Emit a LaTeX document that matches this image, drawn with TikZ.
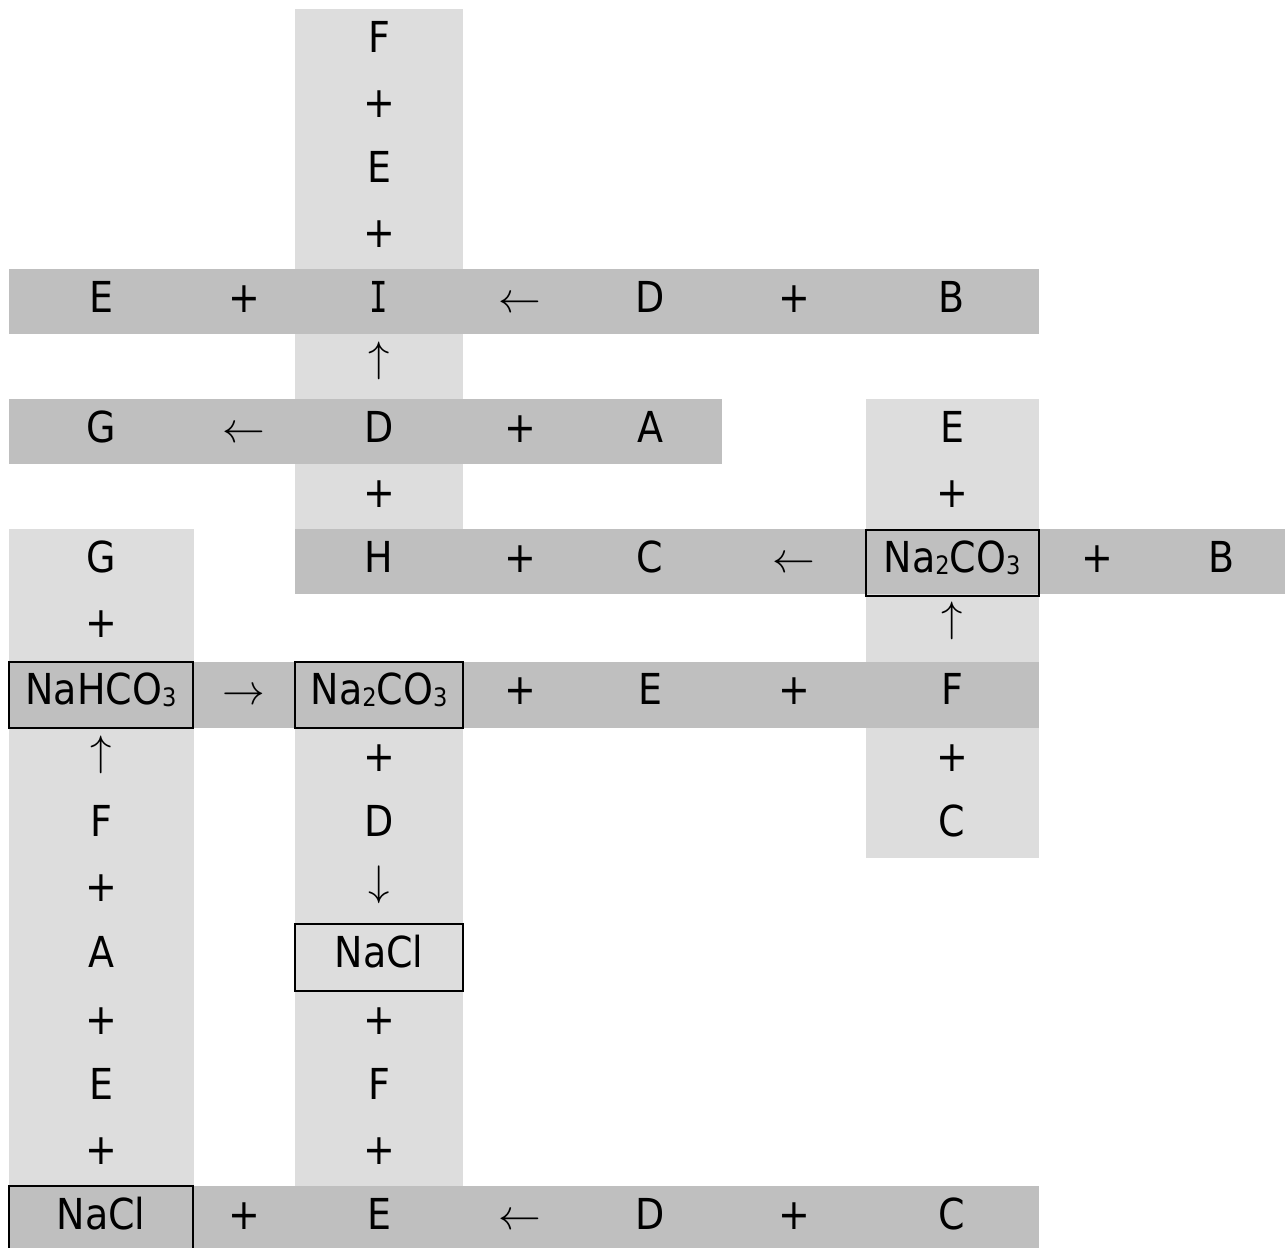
\documentclass[tikz,border=0pt]{standalone}
\usepackage{fix-cm}
\usepackage{fontspec}
\setmainfont{DejaVu Sans}[FakeStretch=0.89]
\newfontfamily\serifI{DejaVu Sans Mono}[FakeStretch=0.72]
\newcommand{\chsub}[1]{\raisebox{-1.5pt}{\fontsize{19}{20}\selectfont #1}}
\definecolor{lightg}{HTML}{DDDDDD}
\definecolor{darkg}{HTML}{BFBFBF}
\begin{document}
\begin{tikzpicture}[x=0.75pt,y=-0.75pt,
  txt/.style={anchor=base,inner sep=0pt,font=\fontsize{32}{38}\selectfont},
  varr/.style={txt,yshift=4.5pt},
  lbg/.style={fill=lightg,draw=none},
  dbg/.style={fill=darkg,draw=none},
  cellbox/.style={draw=black,line width=1.1pt}]
\fill[white] (0,0) rectangle (1285,1247);
\useasboundingbox (0,0) rectangle (1285,1247);
% light columns
\path[lbg] (295,9) rectangle (463,529);
\path[lbg] (866,399) rectangle (1039,858);
\path[lbg] (9,529) rectangle (194,1186);
\path[lbg] (295,662) rectangle (463,1186);
% dark rows
\path[dbg] (9,269) rectangle (1039,334);
\path[dbg] (9,399) rectangle (722,464);
\path[dbg] (295,529) rectangle (1285,594);
\path[dbg] (9,662) rectangle (1039,728);
\path[dbg] (9,1186) rectangle (1039,1262);
% boxes
\draw[cellbox] (9,662) rectangle (193,728);
\draw[cellbox] (295,662) rectangle (463,728);
\draw[cellbox] (866,530) rectangle (1039,596);
\draw[cellbox] (295,924) rectangle (463,991);
\draw[cellbox] (9,1186) rectangle (193,1262);
% row 0-3
\node[txt] (r0c2) at (379,52) {F};
\node[txt] (r1c2) at (379,117) {+};
\node[txt] (r2c2) at (379,182) {E};
\node[txt] (r3c2) at (379,247) {+};
% row 4
\node[txt] (r4c0) at (101,312) {E};
\node[txt] (r4c1) at (244,312) {+};
\node[txt] (r4c2) at (379,312) {\serifI I};
\node[txt] (r4c3) at (520,312) {$\leftarrow$};
\node[txt] (r4c4) at (650,312) {D};
\node[txt] (r4c5) at (794,312) {+};
\node[txt] (r4c6) at (952,312) {B};
% row 5
\node[varr] (r5c2) at (379,377) {$\uparrow$};
% row 6
\node[txt] (r6c0) at (101,442) {G};
\node[txt] (r6c1) at (244,442) {$\leftarrow$};
\node[txt] (r6c2) at (379,442) {D};
\node[txt] (r6c3) at (520,442) {+};
\node[txt] (r6c4) at (650,442) {A};
\node[txt] (r6c6) at (952,442) {E};
% row 7
\node[txt] (r7c2) at (379,507) {+};
\node[txt] (r7c6) at (952,507) {+};
% row 8
\node[txt] (r8c0) at (101,572) {G};
\node[txt] (r8c2) at (379,572) {H};
\node[txt] (r8c3) at (520,572) {+};
\node[txt] (r8c4) at (650,572) {C};
\node[txt] (r8c5) at (794,572) {$\leftarrow$};
\node[txt] (r8c6) at (952,572) {Na\chsub{2}CO\chsub{3}};
\node[txt] (r8c7) at (1097,572) {+};
\node[txt] (r8c8) at (1222,572) {B};
% row 9
\node[txt] (r9c0) at (101,637) {+};
\node[varr] (r9c6) at (952,637) {$\uparrow$};
% row 10
\node[txt] (r10c0) at (101,704) {NaHCO\chsub{3}};
\node[txt] (r10c1) at (244,704) {$\rightarrow$};
\node[txt] (r10c2) at (379,704) {Na\chsub{2}CO\chsub{3}};
\node[txt] (r10c3) at (520,704) {+};
\node[txt] (r10c4) at (650,704) {E};
\node[txt] (r10c5) at (794,704) {+};
\node[txt] (r10c6) at (952,704) {F};
% row 11
\node[varr] (r11c0) at (101,771) {$\uparrow$};
\node[txt] (r11c2) at (379,771) {+};
\node[txt] (r11c6) at (952,771) {+};
% row 12
\node[txt] (r12c0) at (101,836) {F};
\node[txt] (r12c2) at (379,836) {D};
\node[txt] (r12c6) at (952,836) {C};
% row 13
\node[txt] (r13c0) at (101,901) {+};
\node[varr] (r13c2) at (379,901) {$\downarrow$};
% row 14
\node[txt] (r14c0) at (101,967) {A};
\node[txt] (r14c2) at (379,967) {NaCl};
% row 15
\node[txt] (r15c0) at (101,1034) {+};
\node[txt] (r15c2) at (379,1034) {+};
% row 16
\node[txt] (r16c0) at (101,1099) {E};
\node[txt] (r16c2) at (379,1099) {F};
% row 17
\node[txt] (r17c0) at (101,1164) {+};
\node[txt] (r17c2) at (379,1164) {+};
% row 18
\node[txt] (r18c0) at (101,1229) {NaCl};
\node[txt] (r18c1) at (244,1229) {+};
\node[txt] (r18c2) at (379,1229) {E};
\node[txt] (r18c3) at (520,1229) {$\leftarrow$};
\node[txt] (r18c4) at (650,1229) {D};
\node[txt] (r18c5) at (794,1229) {+};
\node[txt] (r18c6) at (952,1229) {C};
\end{tikzpicture}
\end{document}
